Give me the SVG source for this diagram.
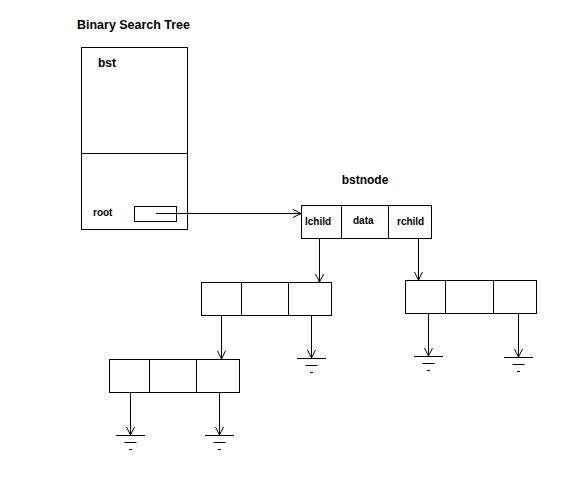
<svg xmlns="http://www.w3.org/2000/svg" width="576" height="492" viewBox="0 0 576 492">
<style>
.box{fill:#fff;stroke:#000;stroke-width:1}
.ln{fill:none;stroke:#000;stroke-width:1}
.t{font-family:"Liberation Sans",Arial,sans-serif;font-weight:bold;fill:#000}
.s10{font-size:10px}
.s12{font-size:12px}
</style>
<defs>
<marker id="arr" viewBox="0 0 10 10" refX="8" refY="5" markerWidth="10" markerHeight="10" markerUnits="userSpaceOnUse" orient="auto">
<polyline points="0,1 8,5 0,9" fill="none" stroke="#000" stroke-width="1"/>
</marker>
<g id="gnd">
<line x1="-14.5" y1="0" x2="14.5" y2="0" class="ln"/>
<line x1="-6" y1="7" x2="6" y2="7" class="ln"/>
<line x1="-1.5" y1="14" x2="1.5" y2="14" class="ln"/>
</g>
</defs>
<rect width="576" height="492" fill="#fff"/>
<text class="t s12" x="77" y="29" textLength="113" lengthAdjust="spacingAndGlyphs">Binary Search Tree</text>

<g id="bst">
<rect class="box" x="81.5" y="47.5" width="106" height="182"/>
<line class="ln" x1="81.5" y1="153.5" x2="187.5" y2="153.5"/>
<text class="t s12" x="98" y="67">bst</text>
<text class="t s10" x="93" y="216">root</text>
<rect class="box" x="134.5" y="206.5" width="42" height="15"/>
</g>

<g id="bstnode">
<text class="t s12" x="365" y="184" text-anchor="middle">bstnode</text>
<rect class="box" x="301.5" y="205.5" width="130" height="33"/>
<line class="ln" x1="341.5" y1="205.5" x2="341.5" y2="238.5"/>
<line class="ln" x1="388.5" y1="205.5" x2="388.5" y2="238.5"/>
<text class="t s10" x="305" y="225">lchild</text>
<text class="t s10" x="353" y="224">data</text>
<text class="t s10" x="397" y="225">rchild</text>
</g>

<g id="node-left">
<rect class="box" x="201.5" y="282.5" width="130" height="33"/>
<line class="ln" x1="241.5" y1="282.5" x2="241.5" y2="315.5"/>
<line class="ln" x1="288.5" y1="282.5" x2="288.5" y2="315.5"/>
</g>

<g id="node-right">
<rect class="box" x="405.5" y="280.5" width="131" height="33"/>
<line class="ln" x1="445.5" y1="280.5" x2="445.5" y2="313.5"/>
<line class="ln" x1="493.5" y1="280.5" x2="493.5" y2="313.5"/>
</g>

<g id="node-bottom">
<rect class="box" x="109.5" y="359.5" width="130" height="33"/>
<line class="ln" x1="149.5" y1="359.5" x2="149.5" y2="392.5"/>
<line class="ln" x1="196.5" y1="359.5" x2="196.5" y2="392.5"/>
</g>

<g id="grounds">
<use href="#gnd" x="311.5" y="358.5"/>
<use href="#gnd" x="428.5" y="356.5"/>
<use href="#gnd" x="518.5" y="357.5"/>
<use href="#gnd" x="130.5" y="435.5"/>
<use href="#gnd" x="219.5" y="435.5"/>
</g>

<g id="connectors">
<line class="ln" x1="156" y1="213.5" x2="301" y2="213.5" marker-end="url(#arr)"/>
<line class="ln" x1="319.5" y1="238.5" x2="319.5" y2="282" marker-end="url(#arr)"/>
<line class="ln" x1="418.5" y1="238.5" x2="418.5" y2="280" marker-end="url(#arr)"/>
<line class="ln" x1="221.5" y1="315.5" x2="221.5" y2="359" marker-end="url(#arr)"/>
<line class="ln" x1="311.5" y1="315.5" x2="311.5" y2="358" marker-end="url(#arr)"/>
<line class="ln" x1="428.5" y1="313.5" x2="428.5" y2="356" marker-end="url(#arr)"/>
<line class="ln" x1="518.5" y1="313.5" x2="518.5" y2="357" marker-end="url(#arr)"/>
<line class="ln" x1="130.5" y1="392.5" x2="130.5" y2="435" marker-end="url(#arr)"/>
<line class="ln" x1="219.5" y1="392.5" x2="219.5" y2="435" marker-end="url(#arr)"/>
</g>
</svg>
